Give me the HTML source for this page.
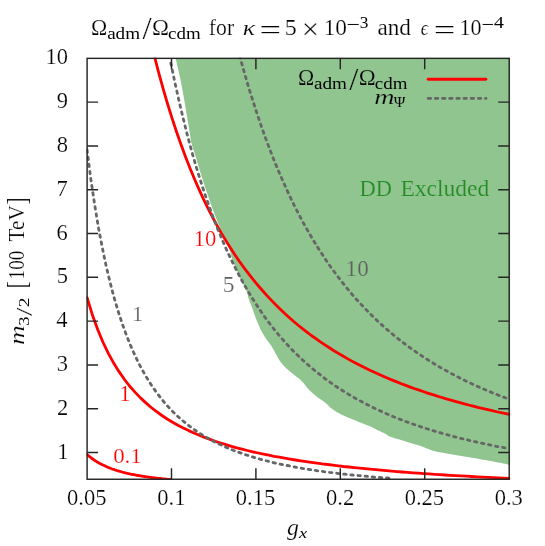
<!DOCTYPE html>
<html><head><meta charset="utf-8"><title>plot</title>
<style>
html,body{margin:0;padding:0;background:#fff;}
svg{display:block;font-family:"Liberation Serif",serif;}
</style></head><body>
<svg width="545" height="546" viewBox="0 0 545 546">
<rect width="545" height="546" fill="#fff"/>
<defs><clipPath id="c"><rect x="86.5" y="57.75" width="423.90000000000003" height="422.34999999999997"/></clipPath></defs>
<g clip-path="url(#c)">
<path d="M175.7,58.4 C176.4,61.4 178.4,69.8 179.8,76.4 C181.2,83.0 182.7,91.0 183.9,97.9 C185.1,104.8 186.2,111.8 187.2,117.6 C188.2,123.4 189.0,128.3 189.7,132.5 C190.4,136.7 190.3,138.5 191.3,142.5 C192.3,146.5 194.1,151.4 195.7,156.5 C197.2,161.6 198.8,167.2 200.6,173.0 C202.4,178.8 204.5,185.3 206.4,191.1 C208.3,196.9 210.3,202.6 212.1,207.6 C213.9,212.6 215.6,217.1 217.1,220.8 C218.6,224.5 219.7,226.9 221.0,229.8 C222.3,232.7 223.6,235.1 224.8,238.0 C226.1,240.9 227.6,244.6 228.5,247.0 C229.4,249.4 229.9,250.6 230.5,252.5 C231.1,254.4 231.4,256.5 232.1,258.6 C232.8,260.7 233.7,263.2 234.4,265.0 C235.1,266.8 235.3,267.4 236.3,269.6 C237.3,271.8 238.5,274.8 240.2,278.2 C241.8,281.6 244.7,286.7 246.2,290.3 C247.7,293.9 248.0,296.9 249.1,300.0 C250.2,303.1 251.3,305.6 252.5,308.8 C253.7,312.0 254.8,315.7 256.1,319.1 C257.5,322.5 259.0,326.2 260.6,329.4 C262.2,332.6 263.9,335.4 265.7,338.2 C267.5,341.0 269.9,343.5 271.6,346.2 C273.3,348.9 274.5,351.7 276.0,354.3 C277.5,356.9 278.6,359.2 280.4,361.7 C282.2,364.1 284.7,366.8 287.0,369.0 C289.3,371.2 291.9,372.9 294.3,374.9 C296.7,376.9 299.2,378.5 301.6,381.0 C304.1,383.5 306.5,387.2 309.0,389.8 C311.5,392.4 313.9,394.3 316.5,396.4 C319.1,398.5 321.9,400.0 324.7,402.2 C327.4,404.4 330.2,407.6 333.0,409.6 C335.8,411.7 338.2,413.0 341.2,414.5 C344.2,416.0 347.8,417.3 351.1,418.7 C354.4,420.1 358.0,421.6 361.0,422.8 C364.0,424.0 366.5,424.9 369.3,426.1 C372.1,427.3 375.0,429.0 377.6,430.2 C380.2,431.4 382.9,432.4 385.0,433.5 C387.1,434.6 386.9,435.5 390.4,436.8 C393.9,438.1 400.7,439.9 405.8,441.5 C410.9,443.1 416.5,444.7 421.2,446.3 C425.9,447.9 429.4,449.7 434.1,451.0 C438.8,452.3 443.9,453.0 449.5,454.0 C455.1,455.0 461.5,455.9 467.5,456.9 C473.5,457.9 480.4,459.1 485.5,460.0 C490.6,460.9 494.2,461.7 498.3,462.5 C502.4,463.3 508.3,464.5 510.3,464.9 L510.2,58.4 L175.7,58.4 Z" fill="rgb(144,197,144)"/>
<g fill="none" stroke="#ff0000" stroke-width="2.8" stroke-linejoin="round" stroke-linecap="round">
<path d="M87.1,454.5 L88.2,455.5 L89.2,456.3 L90.3,457.2 L91.3,458.0 L92.4,458.8 L93.5,459.5 L94.5,460.3 L95.6,460.9 L96.7,461.6 L97.7,462.2 L98.8,462.9 L99.8,463.4 L100.9,464.0 L102.0,464.6 L103.0,465.1 L104.1,465.6 L105.2,466.1 L106.2,466.6 L107.3,467.0 L108.3,467.5 L109.4,467.9 L110.5,468.3 L111.5,468.7 L112.6,469.1 L113.7,469.4 L114.7,469.8 L115.8,470.1 L116.8,470.5 L117.9,470.8 L119.0,471.1 L120.0,471.4 L121.1,471.7 L122.1,472.0 L123.2,472.3 L124.3,472.6 L125.3,472.8 L126.4,473.1 L127.5,473.3 L128.5,473.6 L129.6,473.8 L130.6,474.1 L131.7,474.3 L132.8,474.5 L133.8,474.7 L134.9,474.9 L136.0,475.1 L137.0,475.3 L138.1,475.5 L139.1,475.7 L140.2,475.9 L141.3,476.0 L142.3,476.2 L143.4,476.4 L144.4,476.5 L145.5,476.7 L146.6,476.8 L147.6,477.0 L148.7,477.1 L149.8,477.3 L150.8,477.4 L151.9,477.6 L152.9,477.7 L154.0,477.8 L155.1,477.9 L156.1,478.1 L157.2,478.2 L158.3,478.3 L159.3,478.4 L160.4,478.5 L161.4,478.6 L162.5,478.8 L163.6,478.9 L164.6,479.0 L165.7,479.1 L166.8,479.2 L167.8,479.3 L168.9,479.3 L169.9,479.4 L171.0,479.5"/><path d="M87.1,297.6 L92.4,314.9 L97.8,329.7 L103.1,342.5 L108.5,353.6 L113.8,363.3 L119.2,371.9 L124.5,379.5 L129.8,386.3 L135.2,392.4 L140.5,397.9 L145.9,402.9 L151.2,407.5 L156.6,411.6 L161.9,415.5 L167.2,419.0 L172.6,422.2 L177.9,425.2 L183.3,428.0 L188.6,430.6 L194.0,433.0 L199.3,435.3 L204.6,437.4 L210.0,439.4 L215.3,441.3 L220.7,443.0 L226.0,444.7 L231.4,446.3 L236.7,447.8 L242.0,449.2 L247.4,450.5 L252.7,451.8 L258.1,453.0 L263.4,454.1 L268.8,455.2 L274.1,456.3 L279.4,457.2 L284.8,458.2 L290.1,459.1 L295.5,460.0 L300.8,460.8 L306.2,461.6 L311.5,462.4 L316.9,463.1 L322.2,463.9 L327.5,464.5 L332.9,465.2 L338.2,465.8 L343.6,466.5 L348.9,467.0 L354.3,467.6 L359.6,468.2 L364.9,468.7 L370.3,469.2 L375.6,469.7 L381.0,470.2 L386.3,470.7 L391.7,471.1 L397.0,471.6 L402.3,472.0 L407.7,472.4 L413.0,472.8 L418.4,473.2 L423.7,473.6 L429.1,473.9 L434.4,474.3 L439.7,474.6 L445.1,475.0 L450.4,475.3 L455.8,475.6 L461.1,475.9 L466.5,476.2 L471.8,476.5 L477.1,476.8 L482.5,477.1 L487.8,477.4 L493.2,477.7 L498.5,477.9 L503.9,478.2 L509.2,478.4"/><path d="M154.1,54.9 L158.6,72.3 L163.1,88.6 L167.6,104.0 L172.1,118.4 L176.6,132.0 L181.1,144.8 L185.6,156.9 L190.1,168.4 L194.6,179.2 L199.0,189.4 L203.5,199.2 L208.0,208.4 L212.5,217.1 L217.0,225.4 L221.5,233.4 L226.0,240.9 L230.5,248.1 L235.0,254.9 L239.5,261.5 L244.0,267.7 L248.5,273.7 L253.0,279.4 L257.5,284.8 L262.0,290.0 L266.5,295.1 L271.0,299.9 L275.5,304.5 L280.0,308.9 L284.5,313.2 L288.9,317.2 L293.4,321.2 L297.9,325.0 L302.4,328.6 L306.9,332.1 L311.4,335.5 L315.9,338.7 L320.4,341.9 L324.9,344.9 L329.4,347.8 L333.9,350.7 L338.4,353.4 L342.9,356.0 L347.4,358.6 L351.9,361.1 L356.4,363.5 L360.9,365.8 L365.4,368.0 L369.9,370.2 L374.4,372.3 L378.8,374.3 L383.3,376.3 L387.8,378.2 L392.3,380.1 L396.8,381.9 L401.3,383.7 L405.8,385.4 L410.3,387.1 L414.8,388.7 L419.3,390.2 L423.8,391.8 L428.3,393.3 L432.8,394.7 L437.3,396.1 L441.8,397.5 L446.3,398.8 L450.8,400.1 L455.3,401.4 L459.8,402.6 L464.3,403.8 L468.7,405.0 L473.2,406.1 L477.7,407.3 L482.2,408.3 L486.7,409.4 L491.2,410.4 L495.7,411.5 L500.2,412.5 L504.7,413.4 L509.2,414.4"/>
</g>
<g fill="none" stroke="#666666" stroke-width="2.8" stroke-dasharray="2.45 4.71" stroke-linecap="round">
<path d="M87.1,150.0 L90.9,179.6 L94.8,205.5 L98.6,228.4 L102.5,248.6 L106.3,266.7 L110.2,282.8 L114.0,297.3 L117.9,310.4 L121.7,322.2 L125.6,333.0 L129.4,342.8 L133.3,351.7 L137.1,360.0 L141.0,367.5 L144.8,374.4 L148.6,380.8 L152.5,386.7 L156.3,392.2 L160.2,397.3 L164.0,402.0 L167.9,406.4 L171.7,410.5 L175.6,414.3 L179.4,417.9 L183.3,421.2 L187.1,424.3 L191.0,427.3 L194.8,430.0 L198.7,432.6 L202.5,435.1 L206.4,437.4 L210.2,439.5 L214.0,441.6 L217.9,443.5 L221.7,445.3 L225.6,447.1 L229.4,448.7 L233.3,450.3 L237.1,451.7 L241.0,453.1 L244.8,454.5 L248.7,455.7 L252.5,456.9 L256.4,458.1 L260.2,459.2 L264.1,460.2 L267.9,461.2 L271.7,462.2 L275.6,463.1 L279.4,463.9 L283.3,464.8 L287.1,465.5 L291.0,466.3 L294.8,467.0 L298.7,467.7 L302.5,468.4 L306.4,469.0 L310.2,469.6 L314.1,470.2 L317.9,470.8 L321.8,471.3 L325.6,471.9 L329.5,472.4 L333.3,472.8 L337.1,473.3 L341.0,473.8 L344.8,474.2 L348.7,474.6 L352.5,475.0 L356.4,475.4 L360.2,475.7 L364.1,476.1 L367.9,476.5 L371.8,476.8 L375.6,477.1 L379.5,477.4 L383.3,477.7 L387.2,478.0 L391.0,478.3"/><path d="M170.8,63.0 L175.1,83.5 L179.4,102.6 L183.7,120.5 L187.9,137.3 L192.2,153.0 L196.5,167.8 L200.8,181.7 L205.1,194.7 L209.4,207.0 L213.6,218.6 L217.9,229.5 L222.2,239.8 L226.5,249.6 L230.8,258.8 L235.1,267.5 L239.3,275.8 L243.6,283.6 L247.9,291.0 L252.2,298.1 L256.5,304.8 L260.8,311.2 L265.0,317.3 L269.3,323.1 L273.6,328.6 L277.9,333.9 L282.2,338.9 L286.5,343.7 L290.7,348.3 L295.0,352.7 L299.3,356.9 L303.6,360.9 L307.9,364.7 L312.2,368.4 L316.4,371.9 L320.7,375.3 L325.0,378.6 L329.3,381.7 L333.6,384.7 L337.9,387.6 L342.1,390.3 L346.4,393.0 L350.7,395.6 L355.0,398.1 L359.3,400.4 L363.6,402.7 L367.8,404.9 L372.1,407.1 L376.4,409.1 L380.7,411.1 L385.0,413.0 L389.3,414.9 L393.5,416.7 L397.8,418.4 L402.1,420.1 L406.4,421.7 L410.7,423.3 L415.0,424.8 L419.2,426.2 L423.5,427.7 L427.8,429.0 L432.1,430.4 L436.4,431.7 L440.7,432.9 L444.9,434.1 L449.2,435.3 L453.5,436.5 L457.8,437.6 L462.1,438.7 L466.4,439.7 L470.6,440.7 L474.9,441.7 L479.2,442.7 L483.5,443.6 L487.8,444.5 L492.1,445.4 L496.3,446.3 L500.6,447.1 L504.9,447.9 L509.2,448.7"/><path d="M239.6,55.7 L243.0,68.0 L246.4,79.8 L249.8,91.2 L253.3,102.1 L256.7,112.6 L260.1,122.7 L263.5,132.4 L266.9,141.7 L270.3,150.7 L273.7,159.4 L277.1,167.7 L280.6,175.8 L284.0,183.5 L287.4,191.0 L290.8,198.3 L294.2,205.3 L297.6,212.0 L301.0,218.5 L304.4,224.8 L307.9,230.9 L311.3,236.8 L314.7,242.5 L318.1,248.0 L321.5,253.3 L324.9,258.5 L328.3,263.5 L331.7,268.3 L335.2,273.0 L338.6,277.6 L342.0,282.0 L345.4,286.3 L348.8,290.4 L352.2,294.5 L355.6,298.4 L359.0,302.2 L362.5,305.8 L365.9,309.4 L369.3,312.9 L372.7,316.3 L376.1,319.6 L379.5,322.8 L382.9,325.9 L386.3,328.9 L389.8,331.8 L393.2,334.7 L396.6,337.5 L400.0,340.2 L403.4,342.8 L406.8,345.4 L410.2,347.9 L413.6,350.3 L417.1,352.7 L420.5,355.0 L423.9,357.3 L427.3,359.5 L430.7,361.6 L434.1,363.7 L437.5,365.8 L440.9,367.8 L444.4,369.7 L447.8,371.6 L451.2,373.5 L454.6,375.3 L458.0,377.0 L461.4,378.8 L464.8,380.4 L468.2,382.1 L471.7,383.7 L475.1,385.3 L478.5,386.8 L481.9,388.3 L485.3,389.8 L488.7,391.2 L492.1,392.7 L495.5,394.0 L499.0,395.4 L502.4,396.7 L505.8,398.0 L509.2,399.3"/>
</g>
</g>
<path d="M428.2,79.25H485.9" stroke="#ff0000" stroke-width="2.8" stroke-linecap="round" fill="none"/>
<path d="M428.2,98.4H486" stroke="#666666" stroke-width="2.8" stroke-dasharray="2.45 4.71" stroke-linecap="round" fill="none"/>
<g fill="none" stroke="#262626" stroke-width="1.45">
<path d="M87.1,452.5h11M509.2,452.5h-11M87.1,408.7h11M509.2,408.7h-11M87.1,364.9h11M509.2,364.9h-11M87.1,321.1h11M509.2,321.1h-11M87.1,277.3h11M509.2,277.3h-11M87.1,233.5h11M509.2,233.5h-11M87.1,189.7h11M509.2,189.7h-11M87.1,145.9h11M509.2,145.9h-11M87.1,102.1h11M509.2,102.1h-11M171.5,58.35v11M171.5,479.3v-11M255.9,58.35v11M255.9,479.3v-11M340.3,58.35v11M340.3,479.3v-11M424.7,58.35v11M424.7,479.3v-11"/>
<rect x="87.1" y="58.35" width="422.1" height="420.9"/>
</g>
<g fill="#000" stroke="#fff" stroke-width="0.2" opacity="0.999">
<text transform="translate(67.05,505.30) scale(0.9942,1)" font-size="22.65">0.05</text>
<text transform="translate(157.30,505.30) scale(0.9942,1)" font-size="22.65">0.1</text>
<text transform="translate(235.85,505.30) scale(0.9942,1)" font-size="22.65">0.15</text>
<text transform="translate(326.05,505.30) scale(0.9942,1)" font-size="22.65">0.2</text>
<text transform="translate(404.65,505.30) scale(0.9942,1)" font-size="22.65">0.25</text>
<text transform="translate(494.68,505.30) scale(0.9942,1)" font-size="22.65">0.3</text>
<text transform="translate(57.19,458.50) scale(0.9942,1)" font-size="22.65">1</text>
<text transform="translate(57.08,414.70) scale(0.9942,1)" font-size="22.65">2</text>
<text transform="translate(56.74,370.90) scale(0.9942,1)" font-size="22.65">3</text>
<text transform="translate(56.18,327.10) scale(0.9942,1)" font-size="22.65">4</text>
<text transform="translate(56.74,283.30) scale(0.9942,1)" font-size="22.65">5</text>
<text transform="translate(56.52,239.50) scale(0.9942,1)" font-size="22.65">6</text>
<text transform="translate(56.52,195.70) scale(0.9942,1)" font-size="22.65">7</text>
<text transform="translate(56.74,151.90) scale(0.9942,1)" font-size="22.65">8</text>
<text transform="translate(56.74,108.10) scale(0.9942,1)" font-size="22.65">9</text>
<text transform="translate(45.49,64.30) scale(0.9942,1)" font-size="22.65">10</text>
<text transform="translate(91.11,34.70) scale(0.9498,1)" font-size="23.03"  >Ω</text>
<text transform="translate(107.13,38.64) scale(1.2194,1)" font-size="15.71"  stroke="none">adm</text>
<text transform="translate(142.50,39.28) scale(1.0266,1)" font-size="31.88"  >/</text>
<text transform="translate(152.06,34.70) scale(0.9905,1)" font-size="23.03"  >Ω</text>
<text transform="translate(168.04,38.64) scale(1.2078,1)" font-size="15.71"  stroke="none">cdm</text>
<text transform="translate(208.85,34.68) scale(0.9685,1)" font-size="22.39"  >for</text>
<text transform="translate(242.80,34.80) scale(1.2188,1)" font-size="21.10" font-style="italic" >κ</text>
<text transform="translate(259.59,38.51) scale(1.4500,1)" font-size="26.40"  >=</text>
<text transform="translate(284.76,35.07) scale(1.0297,1)" font-size="23.31"  >5</text>
<text transform="translate(301.75,39.32) scale(1.0164,1)" font-size="30.12"  >×</text>
<text transform="translate(323.70,35.07) scale(1.0161,1)" font-size="22.96"  >10</text>
<text transform="translate(346.62,30.50) scale(1.1828,1)" font-size="20.00"  stroke="none">−</text>
<text transform="translate(359.73,28.34) scale(1.0946,1)" font-size="15.82"  stroke="none">3</text>
<text transform="translate(377.39,34.77) scale(1.0161,1)" font-size="22.86"  >and</text>
<text transform="translate(420.84,34.80) scale(0.9259,1)" font-size="20.00" font-style="italic" >ϵ</text>
<text transform="translate(433.79,38.71) scale(1.4500,1)" font-size="26.40"  >=</text>
<text transform="translate(459.41,35.07) scale(0.9611,1)" font-size="22.96"  >10</text>
<text transform="translate(481.38,30.70) scale(1.1183,1)" font-size="20.00"  stroke="none">−</text>
<text transform="translate(494.00,27.98) scale(1.2366,1)" font-size="16.00"  stroke="none">4</text>
<text transform="translate(297.91,85.15) scale(0.9498,1)" font-size="23.03"  stroke="rgb(144,197,144)">Ω</text>
<text transform="translate(313.93,89.09) scale(1.2194,1)" font-size="15.71"  stroke="none">adm</text>
<text transform="translate(349.30,89.73) scale(1.0266,1)" font-size="31.88"  stroke="rgb(144,197,144)">/</text>
<text transform="translate(358.86,85.15) scale(0.9905,1)" font-size="23.03"  stroke="rgb(144,197,144)">Ω</text>
<text transform="translate(374.84,89.09) scale(1.2078,1)" font-size="15.71"  stroke="none">cdm</text>
<text transform="translate(374.22,104.00) scale(1.3736,1)" font-size="20.43" font-style="italic" stroke="rgb(144,197,144)">m</text>
<text transform="translate(393.82,106.70) scale(1.0343,1)" font-size="15.23"  stroke="none">Ψ</text>
<text transform="translate(359.43,195.60) scale(0.9558,1)" font-size="23.51" fill="rgb(34,139,34)" stroke="rgb(144,197,144)">DD</text>
<text transform="translate(400.49,195.57) scale(1.0232,1)" font-size="23.00" fill="rgb(34,139,34)" stroke="rgb(144,197,144)">Excluded</text>
<text transform="translate(193.67,245.97) scale(1.0005,1)" font-size="22.52" fill="#ff0000" >10</text>
<text transform="translate(118.89,401.40) scale(1.0583,1)" font-size="22.14" fill="#ff0000" >1</text>
<text transform="translate(113.19,462.87) scale(1.0508,1)" font-size="21.76" fill="#ff0000" >0.1</text>
<text transform="translate(131.69,320.80) scale(1.0731,1)" font-size="21.83" fill="#606060" >1</text>
<text transform="translate(222.69,292.47) scale(1.0082,1)" font-size="23.31" fill="#606060" >5</text>
<text transform="translate(345.62,275.57) scale(0.9933,1)" font-size="23.26" fill="#606060" stroke="rgb(144,197,144)">10</text>
<text transform="translate(287.10,534.54) scale(1.0731,1)" font-size="22.21" font-style="italic" >g</text>
<text transform="translate(299.08,537.50) scale(1.1809,1)" font-size="15.60" font-style="italic" stroke="none">x</text>
<g transform="translate(0,344) rotate(-90)">
<text transform="translate(-0.96,24.20) scale(1.3217,1)" font-size="20.65" font-style="italic" >m</text>
<text transform="translate(18.27,29.06) scale(1.2804,1)" font-size="14.48"  stroke="none">3</text>
<text transform="translate(28.00,31.77) scale(1.3118,1)" font-size="23.01"  >/</text>
<text transform="translate(36.72,29.00) scale(1.3547,1)" font-size="14.39"  stroke="none">2</text>
<text transform="translate(55.56,26.08) scale(0.8145,1)" font-size="26.79"  >[</text>
<text transform="translate(64.58,24.27) scale(0.8328,1)" font-size="22.96"  >100</text>
<text transform="translate(102.58,23.95) scale(0.9186,1)" font-size="23.01"  >TeV</text>
<text transform="translate(139.45,26.08) scale(0.7964,1)" font-size="26.79"  >]</text>
</g>
</g>
</svg>
</body></html>
